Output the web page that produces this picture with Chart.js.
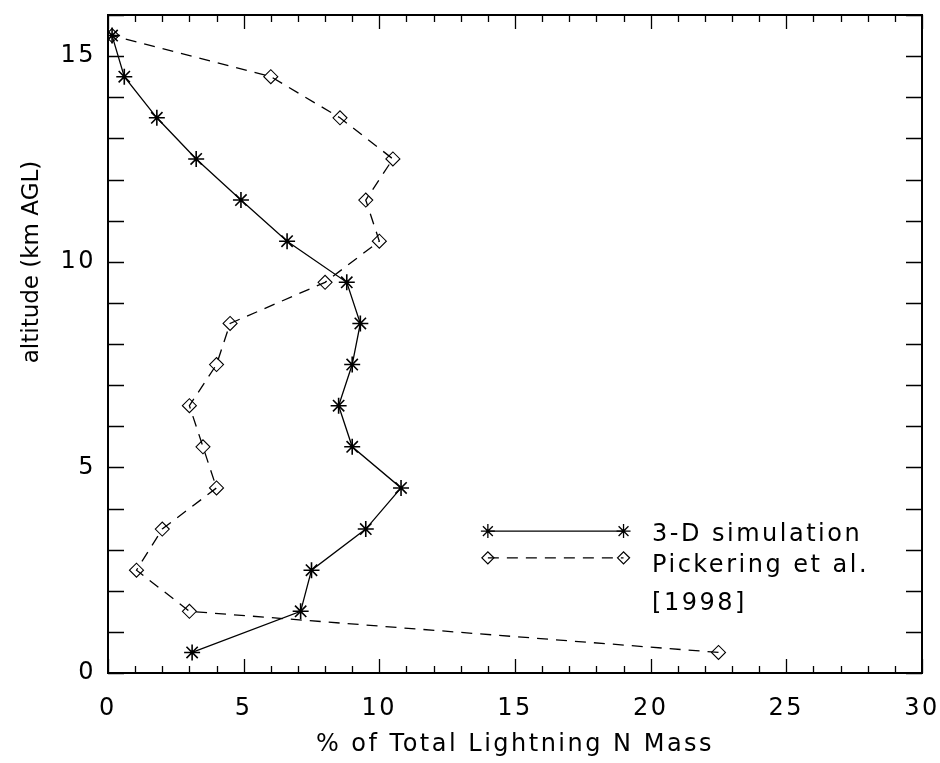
<!DOCTYPE html>
<html>
<head>
<meta charset="utf-8">
<script src="https://cdn.jsdelivr.net/npm/chart.js@4.4.0/dist/chart.umd.min.js"></script>
<style>
  html, body { margin: 0; padding: 0; background: #fff; }
  #wrap { width: 940px; height: 763px; }
</style>
</head>
<body>
<div id="wrap"><canvas id="profile" width="940" height="763"></canvas></div>
<script>
// altitude of each layer midpoint (km AGL)
const altitude = [0.5, 1.5, 2.5, 3.5, 4.5, 5.5, 6.5, 7.5, 8.5, 9.5, 10.5, 11.5, 12.5, 13.5, 14.5, 15.5];
// % of total lightning N mass per layer
const simulation = [3.1, 7.1, 7.5, 9.5, 10.8, 9.0, 8.5, 9.0, 9.3, 8.8, 6.6, 4.9, 3.25, 1.8, 0.6, 0.15];
const pickering = [22.5, 3.0, 1.05, 2.0, 4.0, 3.5, 3.0, 4.0, 4.5, 8.0, 10.0, 9.5, 10.5, 8.55, 6.0, 0.15];
const seriesNames = ['3-D simulation', 'Pickering et al.', '[1998]'];
const xTickLabels = [0, 5, 10, 15, 20, 25, 30];
const yTickLabels = [0, 5, 10, 15];

const FONT = "'DejaVu Sans', sans-serif";
const toPoints = vals => vals.map((v, i) => ({ x: v, y: altitude[i] }));

// IDL-style box: frame plus inward ticks on all four sides
const frameTicks = {
  id: 'frameTicks',
  beforeDraw(chart) {
    chart.ctx.letterSpacing = '2.5px';
  },
  afterDatasetsDraw(chart) {
    const { ctx, chartArea: a, scales: { x, y } } = chart;
    ctx.save();
    ctx.strokeStyle = '#000';
    ctx.lineWidth = 1.3;
    ctx.beginPath();
    for (let v = 0; v <= 30; v++) {
      const px = Math.round(x.getPixelForValue(v)) + 0.5;
      const len = v % 5 === 0 ? 14 : 7;
      ctx.moveTo(px, a.bottom); ctx.lineTo(px, a.bottom - len);
      ctx.moveTo(px, a.top); ctx.lineTo(px, a.top + len);
    }
    for (let v = 0; v <= 16; v++) {
      const py = Math.round(y.getPixelForValue(v)) + 0.5;
      ctx.moveTo(a.left, py); ctx.lineTo(a.left + 16, py);
      ctx.moveTo(a.right, py); ctx.lineTo(a.right - 16, py);
    }
    ctx.stroke();
    ctx.lineWidth = 2;
    ctx.strokeRect(a.left, a.top, a.right - a.left, a.bottom - a.top);

    // y axis title
    ctx.fillStyle = '#000';
    ctx.letterSpacing = '0px';
    ctx.font = '23px ' + FONT;
    ctx.textAlign = 'center';
    ctx.textBaseline = 'middle';
    ctx.translate(32, 262);
    ctx.rotate(-Math.PI / 2);
    ctx.fillText('altitude (km AGL)', 0, 0);
    ctx.restore();
  },
  afterDraw(chart) {
    const { ctx, scales: { x, y } } = chart;
    const ds = chart.data.datasets;
    const x0 = x.getPixelForValue(14), x1 = x.getPixelForValue(19);
    const rows = [y.getPixelForValue(3.45), y.getPixelForValue(2.8)];
    ctx.save();
    ds.forEach((d, i) => {
      ctx.strokeStyle = '#000';
      ctx.lineWidth = d.borderWidth;
      ctx.setLineDash(d.borderDash || []);
      ctx.beginPath();
      ctx.moveTo(x0, rows[i]); ctx.lineTo(x1, rows[i]);
      ctx.stroke();
      ctx.setLineDash([]);
      const pt = { pointStyle: d.pointStyle, radius: d.pointRadius - 1, borderWidth: d.pointBorderWidth };
      ctx.fillStyle = 'rgba(0,0,0,0)';
      Chart.helpers.drawPoint(ctx, pt, x0, rows[i]);
      Chart.helpers.drawPoint(ctx, pt, x1, rows[i]);
    });
    ctx.fillStyle = '#000';
    ctx.font = '24px ' + FONT;
    ctx.textAlign = 'left';
    ctx.textBaseline = 'alphabetic';
    const tx = x.getPixelForValue(20.05);
    ctx.fillText(seriesNames[0], tx, 541);
    ctx.fillText(seriesNames[1], tx, 572);
    ctx.fillText(seriesNames[2], tx, 610);
    ctx.restore();
  }
};

new Chart(document.getElementById('profile').getContext('2d'), {
  type: 'scatter',
  data: {
    datasets: [
      {
        label: seriesNames[0],
        data: toPoints(simulation),
        showLine: true,
        borderColor: '#000',
        borderWidth: 1.3,
        pointStyle: 'star',
        pointRadius: 8,
        pointBorderWidth: 1.6,
        pointBorderColor: '#000',
        pointBackgroundColor: '#000'
      },
      {
        label: seriesNames[1],
        data: toPoints(pickering),
        showLine: true,
        borderColor: '#000',
        borderWidth: 1.3,
        borderDash: [11, 8],
        pointStyle: 'rectRot',
        pointRadius: 7,
        pointBorderWidth: 1.1,
        pointBorderColor: '#000',
        pointBackgroundColor: 'rgba(255,255,255,0)'
      }
    ]
  },
  options: {
    responsive: false,
    animation: false,
    layout: { padding: { top: 15, right: 18, left: 0, bottom: 0 } },
    plugins: {
      legend: { display: false },
      tooltip: { enabled: false }
    },
    scales: {
      x: {
        type: 'linear',
        min: 0,
        max: 30,
        grid: { display: false, drawTicks: false },
        border: { display: false },
        afterFit: s => {
          s.height = 90;
          s.paddingLeft = 0; s.paddingRight = 0;
        },
        ticks: {
          stepSize: 5,
          padding: 21,
          color: '#000',
          font: { family: FONT, size: 24 },
          callback: v => xTickLabels.includes(v) ? String(v) : ''
        },
        title: {
          display: true,
          text: '% of Total Lightning N Mass',
          color: '#000',
          font: { family: FONT, size: 24 },
          padding: { top: 0, bottom: 4 }
        }
      },
      y: {
        type: 'linear',
        min: 0,
        max: 16,
        grid: { display: false, drawTicks: false },
        border: { display: false },
        afterFit: s => {
          s.width = 108;
          s.paddingTop = 0; s.paddingBottom = 0;
        },
        ticks: {
          stepSize: 5,
          padding: 12,
          color: '#000',
          font: { family: FONT, size: 24 },
          callback: v => yTickLabels.includes(v) ? String(v) : ''
        }
      }
    }
  },
  plugins: [frameTicks]
});
</script>
</body>
</html>
